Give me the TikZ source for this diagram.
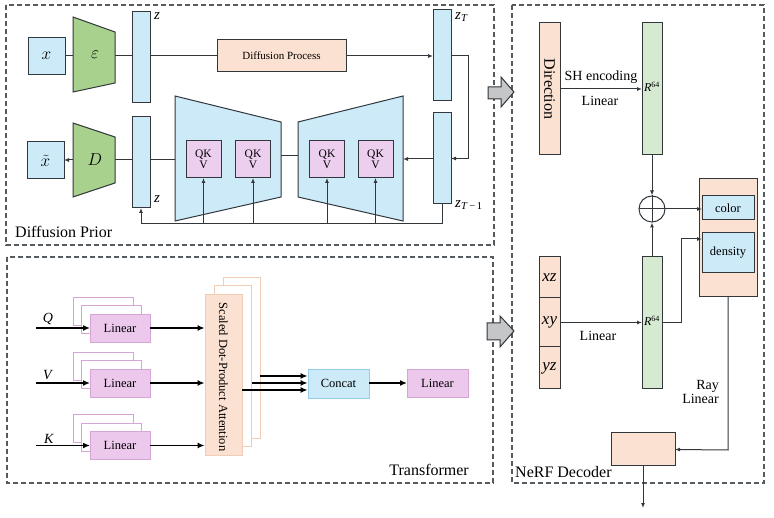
\documentclass[tikz,border=0pt]{standalone}
\usepackage{fontspec}
\setmainfont{Liberation Serif}
\usetikzlibrary{arrows.meta}
\definecolor{lc}{RGB}{50,55,60}
\definecolor{frameC}{RGB}{85,90,95}
\definecolor{blueF}{RGB}{204,234,248}
\definecolor{greenE}{RGB}{169,209,142}
\definecolor{greenL}{RGB}{214,234,210}
\definecolor{peach}{RGB}{251,225,210}
\definecolor{pinkQ}{RGB}{236,206,238}
\definecolor{pinkL}{RGB}{236,200,236}
\definecolor{pinkB}{RGB}{214,165,214}
\definecolor{attB}{RGB}{240,205,180}
\definecolor{concB}{RGB}{150,205,228}
\definecolor{grayA}{RGB}{196,198,200}
\newcommand\fsz[1]{\fontsize{#1}{#1}\selectfont}
\begin{document}
\begin{tikzpicture}[x=1pt,y=-1pt,
  ln/.style={draw=lc, line width=1pt},
  arr/.style={ln, -{Latex[length=5pt,width=4pt]}},
  tarr/.style={draw=black, line width=1.6pt, -{Latex[length=7pt,width=6pt]}},
  box/.style={draw=lc, line width=1pt, inner sep=0pt, outer sep=0pt, align=center},
  bbox/.style={box, fill=blueF},
  pbox/.style={box, fill=peach},
  gbox/.style={box, fill=greenL},
  qbox/.style={box, fill=pinkQ, font=\fsz{11.5}},
  trap/.style={draw=lc, line width=1pt},
  frame/.style={draw=frameC, line width=1.2pt, dash pattern=on 5pt off 3pt},
  linb/.style={draw=pinkB, line width=0.8pt, fill=pinkL, inner sep=0pt, outer sep=0pt,
    minimum width=60pt, minimum height=28pt, font=\fsz{12.5}},
  linback/.style={draw=pinkB, line width=0.8pt, fill=white, inner sep=0pt,
    minimum width=60pt, minimum height=28pt},
  attback/.style={draw=attB, line width=0.8pt, fill=white, inner sep=0pt,
    minimum width=37pt, minimum height=161pt},
  lab/.style={inner sep=0pt},
  blockarr/.style={draw=lc, line width=1pt, fill=grayA}
]
\useasboundingbox (0,0) rectangle (774,518);

% ---------------- frames
\draw[frame] (6,5) rectangle (494,245);
\draw[frame] (7,257) rectangle (493,483);
\draw[frame] (512,5) rectangle (764,483);
\node[lab, anchor=south west, font=\fsz{16}] (dplab) at (15,238) {Diffusion Prior};
\node[lab, anchor=south east, font=\fsz{16}] (trlab) at (469,476) {Transformer};
\node[lab, anchor=south west, font=\fsz{16}] (nflab) at (515,478) {NeRF Decoder};

% ---------------- block arrows
\draw[blockarr] (488,87) -- (501,87) -- (501,77) -- (514,92) -- (501,107) -- (501,99) -- (488,99) -- cycle;
\draw[blockarr] (487,323) -- (500,323) -- (500,316) -- (514,331) -- (500,347) -- (500,340) -- (487,340) -- cycle;

% ---------------- Diffusion prior
\node[bbox, minimum width=37pt, minimum height=37pt, font=\fsz{16}] (xin) at (46.5,56) {$x$};
\draw[trap, fill=greenE] (73,17) -- (115,32) -- (115,83) -- (73,92) -- cycle;
\node[lab, font=\fsz{16}] (enc) at (95,55) {$\varepsilon$};
\coordinate (encL) at (73,56);
\coordinate (encR) at (115,56);
\node[bbox, minimum width=18pt, minimum height=91pt] (zA) at (141,57.5) {};
\node[lab, anchor=west, font=\fsz{15}] (zAl) at (154,16) {\textit{z}};
\node[pbox, minimum width=129pt, minimum height=32pt, font=\fsz{11}] (DP) at (281.5,56) {Diffusion Process};
\node[bbox, minimum width=18pt, minimum height=91pt] (zT) at (442,55.5) {};
\node[lab, anchor=west, font=\fsz{15}] (zTl) at (455,17) {\textit{z}\textsubscript{\textit{T}}};
\node[bbox, minimum width=18pt, minimum height=91pt] (zT1) at (442,158.5) {};
\node[lab, anchor=west, font=\fsz{15}] (zT1l) at (455,205) {\textit{z}\textsubscript{\textit{T}\,−\,1}};

\draw[ln] (xin.east) -- (encL);
\draw[ln] (encR) -- (encR -| zA.west);
\draw[ln] (zA.east |- DP.west) -- (DP.west);
\draw[arr] (DP.east) -- (DP.east -| zT.west);
\coordinate (rt) at (468,56);
\draw[arr] (zT.east |- rt) -- (rt) -- (rt |- zT1.east) -- (zT1.east);

% UNet
\draw[trap, fill=blueF] (175,96) -- (281,122) -- (281,197) -- (175,221) -- cycle;
\draw[trap, fill=blueF] (298,122) -- (403,96) -- (403,221) -- (298,197) -- cycle;
\coordinate (uLl) at (175,160);
\coordinate (uLr) at (281,156);
\coordinate (uRl) at (298,156);
\coordinate (uRr) at (403,159);
\draw[ln] (uLr) -- (uRl);
\draw[arr] (zT1.west |- uRr) -- (uRr);
\node[qbox, minimum width=35pt, minimum height=37pt] (q1) at (203.5,159.5) {QK\\V};
\node[qbox, minimum width=35pt, minimum height=37pt] (q2) at (253,159.5) {QK\\V};
\node[qbox, minimum width=35pt, minimum height=37pt] (q3) at (327,159.5) {QK\\V};
\node[qbox, minimum width=35pt, minimum height=37pt] (q4) at (375.5,159.5) {QK\\V};

\node[bbox, minimum width=18pt, minimum height=91pt] (zB) at (141,162.5) {};
\node[lab, anchor=west, font=\fsz{15}] (zBl) at (154,199) {\textit{z}};
\draw[trap, fill=greenE] (73,123) -- (115,137) -- (115,183) -- (73,197) -- cycle;
\node[lab, font=\fsz{16}] (dec) at (95,160) {$D$};
\coordinate (decL) at (73,160);
\coordinate (decR) at (115,160);
\node[bbox, minimum width=37pt, minimum height=37pt, font=\fsz{16}] (xt) at (45.5,160.5) {$\tilde{x}$};
\draw[ln] (zB.east |- uLl) -- (uLl);
\draw[ln] (zB.west |- decR) -- (decR);
\draw[arr] (decL) -- (decL -| xt.east);

% bus
\coordinate (busL) at (141,224);
\coordinate (busR) at (442,224);
\draw[ln] (zT1.south) -- (busR) -- (busL);
\draw[arr] (busL) -- (zB.south);
\draw[arr] (q1.south |- busL) -- (q1.south);
\draw[arr] (q2.south |- busL) -- (q2.south);
\draw[arr] (q3.south |- busL) -- (q3.south);
\draw[arr] (q4.south |- busL) -- (q4.south);

% ---------------- Transformer
\foreach \n/\y in {1/328, 2/383, 3/445.5}{
  \node[linback] (lb\n a) at (103,\y-17) {};
  \node[linback] (lb\n b) at (111.5,\y-8.5) {};
}
\node[linb] (lin1) at (120,328) {Linear};
\node[linb] (lin2) at (120,383) {Linear};
\node[linb] (lin3) at (120,445.5) {Linear};
\node[lab, font=\fsz{14}] (Ql) at (48,319) {\textit{Q}};
\node[lab, font=\fsz{14}] (Vl) at (48,375) {\textit{V}};
\node[lab, font=\fsz{14}] (Kl) at (49,439) {\textit{K}};
\coordinate (qin) at (36,328);
\coordinate (vin) at (36,383);
\coordinate (kin) at (36,445.5);
\draw[tarr] (qin) -- (lin1.west);
\draw[tarr] (vin) -- (lin2.west);
\draw[tarr] (kin) -- (lin3.west);

\node[attback] (att2) at (241.5,357.5) {};
\node[attback] (att1) at (232.5,366) {};
\node[draw=attB, line width=0.8pt, fill=peach, inner sep=0pt, minimum width=37pt, minimum height=161pt] (att) at (223.5,374.5) {};
\node[lab, rotate=-90, font=\fsz{12.5}] (attl) at (223.5,377) {Scaled Dot-Product Attention};
\draw[tarr] (lin1.east) -- (lin1.east -| att.west);
\draw[tarr] (lin2.east) -- (lin2.east -| att.west);
\draw[tarr] (lin3.east) -- (lin3.east -| att.west);

\node[draw=concB, line width=0.8pt, fill=blueF, inner sep=0pt, minimum width=61pt, minimum height=29pt, font=\fsz{12.5}] (concat) at (338.5,383.5) {Concat};
\coordinate (c1) at (260,376);
\coordinate (c2) at (252,383);
\coordinate (c3) at (242,390);
\draw[tarr] (c1) -- (c1 -| concat.west);
\draw[tarr] (c2) -- (c2 -| concat.west);
\draw[tarr] (c3) -- (c3 -| concat.west);
\node[linb, minimum width=61pt] (lin4) at (437.5,383) {Linear};
\draw[tarr] (concat.east |- lin4.west) -- (lin4.west);

% ---------------- NeRF
\node[pbox, minimum width=21pt, minimum height=132pt] (dir) at (549.5,89) {};
\node[lab, rotate=-90, font=\fsz{16}] (dirl) at (549.5,89) {Direction};
\node[gbox, minimum width=20pt, minimum height=132pt] (g1) at (652,89) {};
\node[lab, font=\fsz{12}] (g1l) at (652,87) {\textit{R}\textsuperscript{64}};
\draw[arr] (dir.east) -- (g1.west);
\node[lab, font=\fsz{14}] (shl) at (601,77) {SH encoding};
\node[lab, font=\fsz{14}] (lnl1) at (600,101) {Linear};

\node[draw=lc, line width=1pt, circle, minimum size=26pt, inner sep=0pt] (plus) at (652,209) {};
\draw[ln] (plus.north) -- (plus.south);
\draw[ln] (plus.west) -- (plus.east);
\draw[arr] (g1.south) -- (plus.north);

\node[pbox, minimum width=58pt, minimum height=118pt] (outer) at (728,238) {};
\node[bbox, minimum width=52pt, minimum height=24pt, font=\fsz{12.5}] (color) at (728,208) {color};
\node[bbox, minimum width=52pt, minimum height=40pt, font=\fsz{12.5}] (dens) at (728,253) {density};
\draw[arr] (plus.east) -- (plus.east -| color.west);

\node[gbox, minimum width=20pt, minimum height=132pt] (g2) at (652,323) {};
\node[lab, font=\fsz{12}] (g2l) at (652,321) {\textit{R}\textsuperscript{64}};
\draw[arr] (g2.north) -- (plus.south);
\coordinate (dk) at (681,239);
\draw[arr] (g2.east) -- (dk |- g2.east) -- (dk) -- (dk -| dens.west);

\node[pbox, minimum width=21pt, minimum height=41pt, font=\fsz{17}] (xz) at (549.5,277.5) {\textit{xz}};
\node[pbox, minimum width=21pt, minimum height=49pt, font=\fsz{17}] (xy) at (549.5,322.5) {\textit{xy}};
\node[pbox, minimum width=21pt, minimum height=42pt, font=\fsz{17}] (yz) at (549.5,368) {\textit{yz}};
\draw[arr] (xy.east) -- (xy.east -| g2.west);
\node[lab, font=\fsz{14}] (lnl2) at (598,336) {Linear};

\node[pbox, minimum width=64pt, minimum height=33pt] (small) at (643,449.5) {};
\coordinate (rd) at (728,450);
\draw[arr] (outer.south) -- (rd) -- (small.east);
\node[lab, anchor=east, align=right, font=\fsz{14}] (rayl) at (719,392) {Ray\\Linear};
\coordinate (outp) at (643,508);
\draw[arr] (small.south) -- (outp);

\end{tikzpicture}
\end{document}
